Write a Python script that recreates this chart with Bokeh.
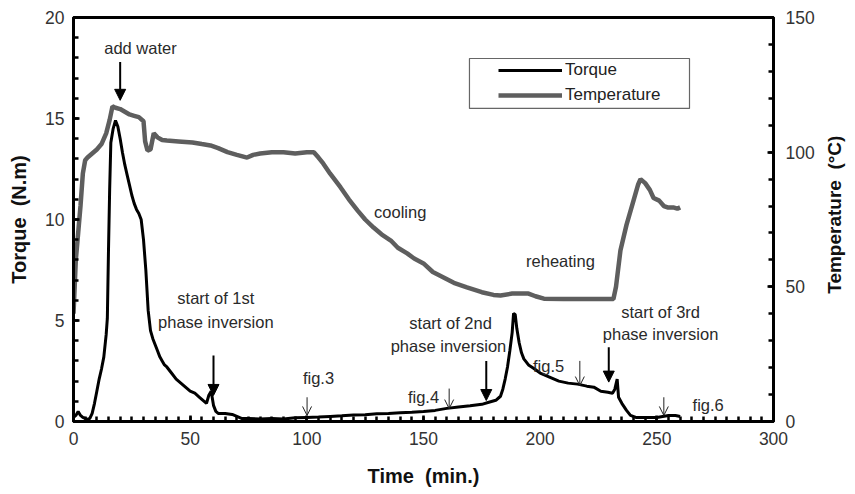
import math
from bokeh.plotting import figure
from bokeh.layouts import row
from bokeh.models import (Range1d, LinearAxis, SingleIntervalTicker, Arrow, NormalHead,
                          OpenHead, Label, Legend, LegendItem, BoxAnnotation, ColumnDataSource)
from bokeh.embed import file_html
from bokeh.resources import INLINE

# ---------------- data ----------------
torque_time = [0, 1, 2, 3, 4, 5, 6, 7, 8, 9, 10, 11, 12, 13, 14, 14.5, 15, 15.5, 16, 17, 18, 19,
               20, 21, 22, 23, 24, 25, 26, 27, 28, 29, 30, 31, 32, 33, 34, 35, 36, 37, 38, 39,
               40, 42, 44, 46, 48, 50, 52, 54, 56, 57, 58, 59, 60, 61, 62, 65, 68, 70, 72, 75,
               80, 85, 90, 95, 100, 105, 110, 115, 120, 125, 130, 135, 140, 145, 150, 155, 160,
               165, 170, 175, 178, 181, 183, 184, 185, 186, 187, 188, 188.6, 189.3, 190, 191,
               192, 193, 195, 197, 200, 204, 208, 212, 216, 220, 223, 226, 229, 231, 232, 233,
               233.6, 235, 237, 238.7, 241, 245, 250, 255, 258, 260]
torque_value = [0.2, 0.3, 0.5, 0.3, 0.2, 0.15, 0.1, 0.15, 0.4, 0.9, 1.5, 2.1, 2.6, 3.2, 4.3, 5.1,
                8.5, 11.5, 13.8, 14.5, 14.9, 14.6, 14.0, 13.3, 12.7, 12.2, 11.7, 11.2, 10.8, 10.5,
                10.3, 10.0, 9.0, 7.5, 5.5, 4.5, 4.1, 3.8, 3.5, 3.2, 3.0, 2.8, 2.7, 2.4, 2.1, 1.9,
                1.7, 1.5, 1.4, 1.2, 1.0, 0.9, 1.3, 1.5, 0.8, 0.5, 0.4, 0.4, 0.35, 0.25, 0.15,
                0.15, 0.12, 0.15, 0.12, 0.18, 0.2, 0.22, 0.25, 0.28, 0.32, 0.33, 0.38, 0.4, 0.43,
                0.46, 0.5, 0.55, 0.65, 0.72, 0.78, 0.85, 0.95, 1.05, 1.25, 1.6, 2.1, 2.7, 3.5,
                4.4, 5.35, 5.3, 4.6, 3.9, 3.4, 3.1, 2.8, 2.65, 2.4, 2.2, 2.0, 1.9, 1.85, 1.75,
                1.7, 1.5, 1.45, 1.4, 1.6, 2.1, 1.2, 0.9, 0.55, 0.3, 0.2, 0.2, 0.2, 0.3, 0.3, 0.25]

temp_time = [0, 0.5, 1, 2, 3, 4, 5, 6, 8, 10, 12, 14, 15.5, 16.7, 18, 20, 22, 24, 26, 28, 30,
             30.7, 31.7, 33, 34.4, 36, 38, 40, 45, 51, 55, 58.7, 62, 66, 70, 74.4, 77, 80, 85,
             90, 95, 100, 103, 105, 107, 110, 114.4, 118, 121.7, 125, 128.6, 132, 136, 139,
             143, 146, 150, 154, 158.6, 163, 168.6, 175, 180, 183, 188, 195, 198, 201.6, 210,
             220, 231.4, 232.5, 234.4, 237, 240, 242, 243, 245, 247, 248.6, 251, 253, 254.6,
             257, 258.8, 260]
temp_value = [40, 50, 60, 70, 80, 92, 97, 98, 99.5, 101, 103, 107, 112, 117, 116.5, 116, 115,
              114, 113.5, 113, 111.5, 104, 100.6, 101, 107, 105.5, 104.5, 104.3, 104, 103.6,
              103, 102.5, 101.5, 100, 99, 98, 99, 99.5, 100, 100, 99.5, 100, 100, 98, 95.8, 92,
              87, 82.5, 78.4, 75, 72, 69.5, 67.2, 64.5, 62.4, 60.5, 58.7, 55.5, 53.5, 51.5,
              49.8, 48, 47, 46.8, 47.5, 47.5, 46.5, 45.6, 45.5, 45.5, 45.5, 50, 63.5, 73, 82,
              88, 90, 88.5, 86, 83, 82, 80, 79.5, 79.5, 79, 79.5]

series_names = ["Torque", "Temperature"]
x_label = "Time\u00a0 (min.)"
y_label = "Torque\u00a0 (N.m)"
y2_label = "Temperature\u00a0 (\u00b0C)"

# annotation texts: (text, x, y)
notes = [("add water", 28.7, 18.5), ("start of 1st", 61, 6.1), ("phase inversion", 61, 4.95),
         ("fig.3", 105, 2.13), ("start of 2nd", 161.6, 4.9), ("phase inversion", 160.7, 3.76),
         ("fig.4", 150, 1.19), ("fig.5", 203.6, 2.77), ("start of 3rd", 251.6, 5.4),
         ("phase inversion", 251.6, 4.35), ("fig.6", 272, 0.8), ("cooling", 140, 10.35),
         ("reheating", 208.7, 7.97)]
# bold arrows: (x, y_start, y_end)
big_arrows = [(20, 17.8, 15.9), (60, 3.27, 1.29), (176.9, 3.0, 1.04), (229.4, 3.68, 1.95)]
thin_arrows = [(100.1, 1.2, 0.3), (161, 1.63, 0.64), (217, 3.0, 1.78), (253, 1.2, 0.3)]

FONT = "Liberation Sans"
FW, FH = 700, 404
BL, BR, BT, BB = 73, 41, 17, 65
TOTAL_H = BT + FH + BB
SIDE_W = 847 - (BL + FW + BR)

p = figure(frame_width=FW, frame_height=FH, output_backend="svg", toolbar_location=None,
           x_range=Range1d(0, 300), y_range=Range1d(0, 20),
           x_axis_type=None, y_axis_type=None,
           min_border_left=BL, min_border_right=BR, min_border_top=BT, min_border_bottom=BB,
           background_fill_color="white", border_fill_color="white")
p.xgrid.visible = False
p.ygrid.visible = False
p.outline_line_color = "black"
p.outline_line_width = 3
p.extra_y_ranges = {"temp": Range1d(0, 150)}


def style_axis(ax, label, standoff, label_standoff):
    ax.axis_label = label
    ax.axis_label_text_font = FONT
    ax.axis_label_text_font_style = "bold"
    ax.axis_label_text_font_size = "20px"
    ax.axis_label_text_color = "#111111"
    ax.axis_label_standoff = label_standoff
    ax.major_label_text_font = FONT
    ax.major_label_text_font_size = "17.5px"
    ax.major_label_text_color = "#333333"
    ax.major_label_standoff = standoff
    ax.axis_line_width = 3
    ax.axis_line_color = "black"
    ax.major_tick_in = 6
    ax.major_tick_out = 0
    ax.minor_tick_in = 5
    ax.minor_tick_out = 0
    ax.major_tick_line_width = 2.5
    ax.minor_tick_line_width = 2.5


xax = LinearAxis(ticker=SingleIntervalTicker(interval=50, num_minor_ticks=10))
style_axis(xax, x_label, 10, 17)
p.add_layout(xax, "below")

yax = LinearAxis(ticker=SingleIntervalTicker(interval=5, num_minor_ticks=5))
style_axis(yax, y_label, 9, 12)
p.add_layout(yax, "left")

y2ax = LinearAxis(y_range_name="temp", ticker=SingleIntervalTicker(interval=50, num_minor_ticks=5))
style_axis(y2ax, None, 12, 20)
p.add_layout(y2ax, "right")

src_t = ColumnDataSource(dict(x=torque_time, y=torque_value))
src_c = ColumnDataSource(dict(x=temp_time, y=temp_value))
r_temp = p.line("x", "y", source=src_c, y_range_name="temp", line_color="#5e5e5e", line_width=4.5)
r_torque = p.line("x", "y", source=src_t, line_color="black", line_width=3)

for txt, x, y in notes:
    p.add_layout(Label(x=x, y=y, text=txt, text_align="center", text_baseline="middle",
                       text_font=FONT, text_font_size="16.5px", text_color="#2a2a2a"))

for x, y0, y1 in big_arrows:
    p.add_layout(Arrow(end=NormalHead(size=11, fill_color="black", line_color="black"),
                       x_start=x, y_start=y0, x_end=x, y_end=y1, line_width=2, line_color="black"))
for x, y0, y1 in thin_arrows:
    p.add_layout(Arrow(end=OpenHead(size=9, line_width=1, line_color="#222222"),
                       x_start=x, y_start=y0, x_end=x, y_end=y1, line_width=1, line_color="#222222"))

p.add_layout(BoxAnnotation(left=169.7, right=264.0, bottom=15.5, top=17.97, fill_color="white",
                           fill_alpha=1, line_color="#666666", line_width=1.2, line_alpha=1))
legend = Legend(items=[LegendItem(label=series_names[0], renderers=[r_torque]),
                       LegendItem(label=series_names[1], renderers=[r_temp])],
                location=(421, 312), padding=4, spacing=5, glyph_width=64, glyph_height=20,
                label_height=20, label_standoff=3, border_line_alpha=0, background_fill_alpha=0,
                label_text_font=FONT, label_text_font_size="17px", label_text_color="#222222")
p.add_layout(legend)

# narrow side panel holding the right axis title, reading bottom-to-top like the reference
side = figure(width=SIDE_W, height=TOTAL_H, output_backend="svg", toolbar_location=None,
              x_range=Range1d(0, SIDE_W), y_range=Range1d(0, TOTAL_H),
              x_axis_type=None, y_axis_type=None, min_border=0,
              min_border_left=0, min_border_right=0, min_border_top=0, min_border_bottom=0,
              background_fill_color="white", border_fill_color="white")
side.xgrid.visible = False
side.ygrid.visible = False
side.outline_line_color = None
side.add_layout(Label(x=SIDE_W - 16, y=TOTAL_H - 239, text=y2_label, angle=math.pi / 2,
                      text_align="center", text_baseline="middle", text_font=FONT,
                      text_font_style="bold", text_font_size="19px", text_color="#111111"))

layout = row(p, side, spacing=0)
open("out.html", "w").write(file_html(layout, INLINE))
